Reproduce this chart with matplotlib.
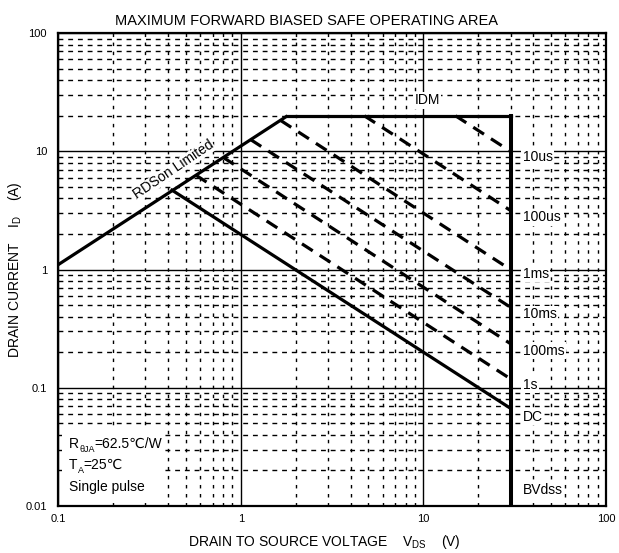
import matplotlib

matplotlib.use("Agg")
import matplotlib.pyplot as plt
from matplotlib.patches import Rectangle

plt.rcParams["font.family"] = ["Liberation Sans", "DejaVu Sans"]
plt.rcParams["mathtext.fontset"] = "custom"
plt.rcParams["mathtext.rm"] = "Liberation Sans"
plt.rcParams["mathtext.it"] = "Liberation Sans:italic"

# boundary segments (V, A)
rdson_v = [0.1, 1.8]
rdson_i = [1.1, 20]
idm_v = [1.8, 30]
idm_i = [20, 20]
bvdss_v = [30, 30]
bvdss_i = [20, 0.01]
dc_v = [0.42, 30]
dc_i = [4.7, 0.067]

# pulse-width limits: start on RDSon/IDM line, end at BVdss
pulse_names = ["10us", "100us", "1ms", "10ms", "100ms", "1s"]
pulse_start_v = [15, 4.75, 1.65, 1.13, 0.80, 0.567]
pulse_start_i = [20, 20, 18.3, 12.6, 8.9, 6.3]
pulse_end_i = [10, 3.16, 1.0, 0.48, 0.236, 0.119]
pulse_label_i = [8.9, 2.76, 0.92, 0.42, 0.206, 0.106]

x_ticks = [0.1, 1, 10, 100]
x_tick_labels = ["0.1", "1", "10", "100"]
y_ticks = [0.01, 0.1, 1, 10, 100]
y_tick_labels = ["0.01", "0.1", "1", "10", "100"]


def chain(ax, x, y, pieces):
    """Plain-text run with manual subscripts: (text, size, dy in points)."""
    prev = ax.text(x, y, pieces[0][0], fontsize=pieces[0][1],
                   va="bottom", ha="left", zorder=5)
    for text, size, dy in pieces[1:]:
        prev = ax.annotate(text, xy=(1, 0), xycoords=prev, xytext=(0, dy),
                           textcoords="offset points", fontsize=size,
                           va="bottom", ha="left", zorder=5)


fig = plt.figure(figsize=(6.19, 5.53), dpi=100)
ax = fig.add_axes([0.094, 0.085, 0.885, 0.855])
ax.set_xscale("log")
ax.set_yscale("log")
ax.set_xlim(0.1, 100)
ax.set_ylim(0.01, 100)

ax.set_xticks(x_ticks, x_tick_labels)
ax.set_yticks(y_ticks, y_tick_labels)
ax.tick_params(which="both", length=0, labelsize=8)
ax.tick_params(axis="x", pad=6)
ax.tick_params(axis="y", pad=8)

ax.grid(which="major", color="black", linewidth=1.0, linestyle="-")
ax.xaxis.grid(which="minor", color="black", linewidth=1.0, linestyle=(0, (2.5, 4)))
ax.yaxis.grid(which="minor", color="black", linewidth=1.0, linestyle=(0, (3.5, 3.5)))
ax.set_axisbelow(True)
for spine in ax.spines.values():
    spine.set_linewidth(1.6)

lw = 2.3
ax.plot(rdson_v, rdson_i, color="black", linewidth=lw, solid_capstyle="butt")
ax.plot(idm_v, idm_i, color="black", linewidth=lw)
ax.plot(bvdss_v, bvdss_i, color="black", linewidth=lw + 0.6)
ax.plot(dc_v, dc_i, color="black", linewidth=lw)
for v0, i0, i1 in zip(pulse_start_v, pulse_start_i, pulse_end_i):
    ax.plot([v0, bvdss_v[0]], [i0, i1], color="black", linewidth=lw,
            linestyle=(0, (4, 2.6)))

box = dict(facecolor="white", edgecolor="none", pad=1.0)
for name, yi in zip(pulse_names, pulse_label_i):
    ax.text(35, yi, name, fontsize=10, va="center", ha="left", bbox=box)
ax.text(35, 0.057, "DC", fontsize=10, va="center", ha="left", bbox=box)
ax.text(35, 0.0136, "BVdss", fontsize=10, va="center", ha="left", bbox=box)
ax.text(10.5, 27, "IDM", fontsize=10, va="center", ha="center", bbox=box)
ax.text(0.43, 7.0, "RDSon Limited", fontsize=10, va="center", ha="center",
        rotation=34, rotation_mode="anchor",
        bbox=dict(facecolor="white", edgecolor="none", pad=0.2))

# conditions block on a blank patch
ax.add_patch(Rectangle((0.0073, 0.0127), 0.188, 0.152, transform=ax.transAxes,
                       facecolor="white", edgecolor="none", zorder=1))
chain(ax, 0.1147, 0.0292, [("R", 10, 0), ("θJA", 6.5, -2.4), ("=62.5℃/W", 10, 2.4)])
chain(ax, 0.1147, 0.0194, [("T", 10, 0), ("A", 6.5, -2.4), ("=25℃", 10, 2.4)])
chain(ax, 0.1147, 0.0126, [("Single pulse", 10, 0)])

ax.set_title("MAXIMUM FORWARD BIASED SAFE OPERATING AREA", fontsize=10.5,
             pad=6, x=0.4526)
ax.set_xlabel("DRAIN TO SOURCE VOLTAGE    V$_{\\mathregular{DS}}$    (V)", fontsize=10)
ax.set_ylabel("DRAIN CURRENT    I$_{\\mathregular{D}}$    (A)", fontsize=10)
ax.xaxis.set_label_coords(0.486, -0.058)
ax.yaxis.set_label_coords(-0.062, 0.5)

fig.savefig("out.png", dpi=100)
